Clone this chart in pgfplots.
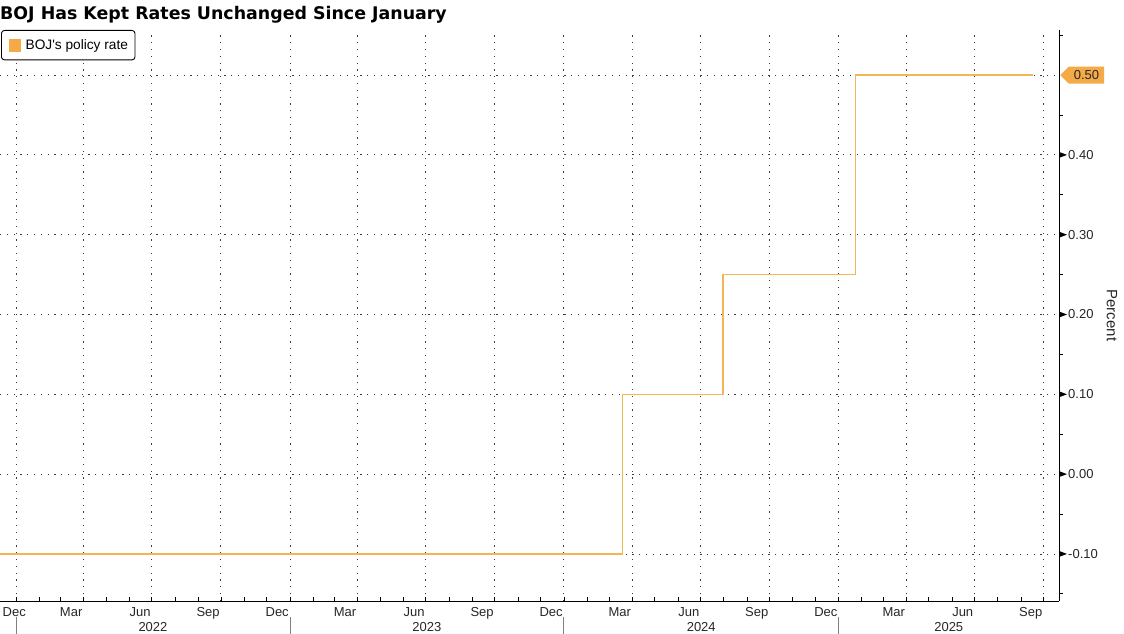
\documentclass[border=0pt]{standalone}
\usepackage{pgfplots}
\pgfplotsset{compat=1.18}
\usepackage{fontspec}
\setmainfont{Liberation Sans}
\newfontfamily\dejavu{DejaVu Sans}
\usetikzlibrary{shapes.symbols}
\definecolor{bbgorange}{RGB}{245,170,72}
\definecolor{bbgline}{RGB}{242,182,86}
\definecolor{gridgray}{RGB}{60,60,60}
\begin{document}
\begin{tikzpicture}
\begin{axis}[
  scale only axis, width=1059pt, height=571pt,
  xmin=-21.3, xmax=1389.7, ymin=-0.159, ymax=0.5565,
  clip=false,
  axis x line*=bottom, axis y line*=right,
  axis line style={line width=0.9pt, black},
  xtick align=inside, ytick align=outside,
  major tick length=4pt, minor tick length=4pt,
  tick style={black, line width=0.7pt},
  xtick={0,90,181,273,365,455,546,638,730,821,912,1004,1096,1186,1277,1369},
  xticklabels={Dec\kern-11pt,Mar,Jun,Sep,Dec,Mar,Jun,Sep,Dec,Mar,Jun,Sep,Dec,Mar,Jun,Sep},
  minor xtick={31,59,120,151,212,243,304,334,396,424,485,516,577,608,669,699,761,790,851,882,943,974,1035,1065,1127,1155,1216,1247,1308,1339},
  xticklabel style={anchor=north east, inner sep=0pt, xshift=-1pt, yshift=-6pt, font=\fontsize{13}{15}\selectfont, text=black!85},
  extra x ticks={182.5,547.5,913,1242.8},
  extra x tick labels={2022,2023,2024,2025},
  extra x tick style={grid=none, major tick length=0pt, xticklabel style={anchor=north, xshift=1pt, yshift=-15pt}},
  ytick={-0.1,0,0.1,0.2,0.3,0.4},
  minor ytick={-0.15,-0.05,0.05,0.15,0.25,0.35,0.45,0.55},
  yticklabel={\pgfmathprintnumber[fixed,fixed zerofill,precision=2,assume math mode=true]{\tick}},
  yticklabel style={anchor=west, inner sep=0pt, xshift=5pt, font=\fontsize{13}{15}\selectfont, text=black!85},
  extra y ticks={0.5},
  extra y tick style={major tick length=0pt,
    yticklabel style={shape=signal, signal to=west, signal from=nowhere, fill=bbgorange, text=black!85, inner xsep=5pt, inner ysep=2pt, minimum height=17pt, xshift=-4pt}},
  xmajorgrids, ymajorgrids,
  major grid style={gridgray, line width=0.8pt, dash pattern=on 1.2pt off 5.6pt},
  legend style={at={(0,1)}, anchor=north west, xshift=1pt, draw=black, line width=0.9pt, rounded corners=3pt, font=\fontsize{13.7}{15}\selectfont, inner xsep=5pt, inner ysep=7pt, row sep=0pt},
  legend cell align=left,
  legend image code/.code={\path (0pt,0pt); \fill[bbgorange, sharp corners] (3pt,-6pt) rectangle (13pt,6pt); \path (16pt,0pt);},
]
\addplot[const plot, color=bbgline, line width=1.2pt] coordinates {
  (-21.3,-0.10) (808,0.10) (942,0.25) (1119,0.50) (1355,0.50)
};
\addlegendentry{BOJ\textquotesingle s policy rate}
\pgfplotsinvokeforeach{-0.1,0,0.1,0.2,0.3,0.4}{
  \fill[black] ([yshift=3pt]axis cs:1389.7,#1) -- ([xshift=8pt]axis cs:1389.7,#1) -- ([yshift=-3pt]axis cs:1389.7,#1) -- cycle;
}
\node[anchor=base west, inner sep=0pt, font=\dejavu\fontsize{17.4}{20}\selectfont\bfseries] at ([yshift=10pt]rel axis cs:0,1) {BOJ Has Kept Rates Unchanged Since January};
\node[rotate=-90, anchor=center, inner sep=0pt, font=\fontsize{15}{17}\selectfont, text=black!85] at ([xshift=53pt]rel axis cs:1,0.5) {Percent};
\pgfplotsinvokeforeach{0,365,730,1096}{
  \draw[gray, line width=0.8pt] ([yshift=-16pt]axis cs:#1,-0.159) -- ([yshift=-34pt]axis cs:#1,-0.159);
}
\end{axis}
\pgfresetboundingbox
\path (current axis.south west) ++(0,-33pt) rectangle ++(1124pt,634pt);
\end{tikzpicture}
\end{document}
